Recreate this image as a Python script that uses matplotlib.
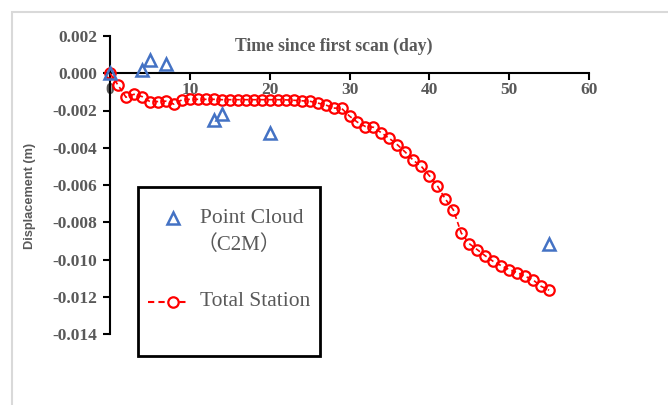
import matplotlib
matplotlib.use("Agg")
import matplotlib.pyplot as plt
from matplotlib.lines import Line2D
from matplotlib.patches import Rectangle

# ---- data ----
pc_days = [0, 4, 5, 7, 13, 14, 20, 55]
pc_disp = [0.0, 0.0002, 0.0007, 0.0005, -0.0025, -0.0022, -0.0032, -0.00917]

ts_days = list(range(0, 56))
ts_disp = [0.0, -0.00063, -0.00129, -0.00113, -0.00125, -0.00152, -0.00152, -0.0015, -0.00166, -0.00143,
           -0.0014, -0.0014, -0.0014, -0.0014, -0.00142, -0.00142, -0.00142, -0.00142, -0.00142, -0.00142,
           -0.00142, -0.00142, -0.00143, -0.00145, -0.00148, -0.0015, -0.0016, -0.0017, -0.00187, -0.00188,
           -0.0023, -0.00263, -0.00286, -0.0029, -0.0032, -0.0035, -0.00384, -0.00424, -0.00468, -0.005,
           -0.0055, -0.00604, -0.00675, -0.00733, -0.00858, -0.00915, -0.00947, -0.0098, -0.0101, -0.01033,
           -0.01054, -0.0107, -0.0109, -0.0111, -0.01144, -0.01165]

x_ticks = [0, 10, 20, 30, 40, 50, 60]
y_ticks = [0.002, 0.0, -0.002, -0.004, -0.006, -0.008, -0.010, -0.012, -0.014]
y_ticklabels = ["0.002", "0.000", "-0.002", "-0.004", "-0.006", "-0.008", "-0.010", "-0.012", "-0.014"]

GRAY = "#595959"
RED = "#FF0000"
BLUE = "#4472C4"
SERIF = ["Liberation Serif", "DejaVu Serif"]

W, H = 668, 405
fig = plt.figure(figsize=(W / 100, H / 100), dpi=100)
fig.patch.set_facecolor("white")

def fx(px):
    return px / W

def fy(py):
    return 1 - py / H

# outer light-gray frame (chart area border)
fig.patches.append(Rectangle((fx(12), fy(420)), fx(700) - fx(12), fy(12) - fy(420),
                             transform=fig.transFigure, fill=False, edgecolor="#D9D9D9",
                             linewidth=1.5, zorder=0))

ax = fig.add_axes([fx(110), fy(334), fx(589) - fx(110), fy(36) - fy(334)])
ax.set_facecolor("none")
ax.set_xlim(0, 60)
ax.set_ylim(-0.014, 0.002)

ax.spines["top"].set_visible(False)
ax.spines["right"].set_visible(False)
ax.spines["bottom"].set_position(("data", 0))
ax.spines["bottom"].set_linewidth(1.5)
ax.spines["left"].set_linewidth(1.5)

ax.set_xticks(x_ticks)
ax.set_xticklabels([str(t) for t in x_ticks])
ax.set_yticks(y_ticks)
ax.set_yticklabels(y_ticklabels)
ax.tick_params(axis="both", direction="out", length=5, width=1.5, color="black")
ax.tick_params(axis="x", pad=1.5)
ax.tick_params(axis="y", pad=4)
for lab in ax.get_xticklabels() + ax.get_yticklabels():
    lab.set_fontfamily(SERIF)
    lab.set_fontweight("bold")
    lab.set_fontsize(12.5)
    lab.set_color(GRAY)

ax.plot(ts_days, ts_disp, linestyle=(0, (3, 2)), color=RED, linewidth=1.2,
        marker="o", markersize=7.5, markerfacecolor="none", markeredgecolor=RED,
        markeredgewidth=1.6, zorder=3, clip_on=False)
ax.plot(pc_days, pc_disp, linestyle="none", marker="^", markersize=8.5,
        markerfacecolor="none", markeredgecolor=BLUE, markeredgewidth=1.8, zorder=4,
        clip_on=False)

ax.text(fx(334), fy(46), "Time since first scan (day)", transform=fig.transFigure,
        ha="center", va="center", fontfamily=SERIF, fontweight="bold", fontsize=12.7,
        color=GRAY)
fig.text(fx(30), fy(196), "Displacement (m)", rotation=90, ha="center", va="center",
         fontfamily=["Liberation Sans", "DejaVu Sans"], fontweight="bold", fontsize=9.2,
         color=GRAY)

# legend box
fig.patches.append(Rectangle((fx(138), fy(356)), fx(320) - fx(138), fy(187) - fy(356),
                             transform=fig.transFigure, fill=True, facecolor="white",
                             edgecolor="black", linewidth=2, zorder=5))
fig.lines.append(Line2D([fx(173)], [fy(218)], transform=fig.transFigure, linestyle="none",
                        marker="^", markersize=8.5, markerfacecolor="none",
                        markeredgecolor=BLUE, markeredgewidth=1.8, zorder=6))
fig.lines.append(Line2D([fx(148), fx(187)], [fy(301.5), fy(301.5)], transform=fig.transFigure,
                        linestyle=(0, (3, 2)), color=RED, linewidth=1.5, zorder=6))
fig.lines.append(Line2D([fx(173)], [fy(301.5)], transform=fig.transFigure, linestyle="none",
                        marker="o", markersize=7.5, markerfacecolor="white",
                        markeredgecolor=RED, markeredgewidth=1.6, zorder=7))
LEGF = ["Liberation Serif", "Noto Sans CJK SC"]
fig.text(fx(200), fy(218), "Point Cloud", ha="left", va="center", fontfamily=LEGF,
         fontsize=15.5, color=GRAY, zorder=8)
fig.text(fx(239), fy(245), "（C2M）", ha="center", va="center", fontfamily=LEGF,
         fontsize=15, color=GRAY, zorder=8)
fig.text(fx(200), fy(301), "Total Station", ha="left", va="center", fontfamily=LEGF,
         fontsize=15.5, color=GRAY, zorder=8)

fig.savefig("out.png", dpi=100)
